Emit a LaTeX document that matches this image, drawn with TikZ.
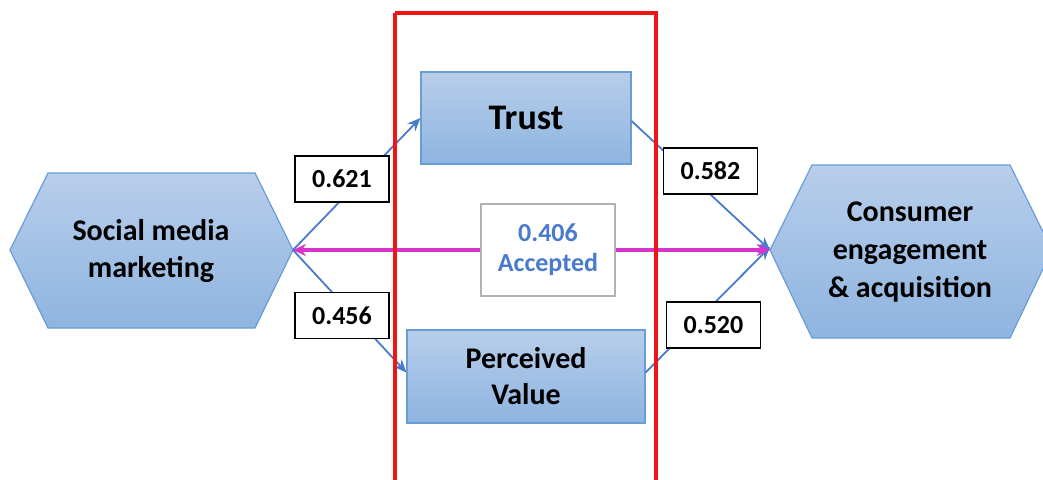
\documentclass[tikz,border=0pt]{standalone}
\usepackage{fontspec}
\setmainfont{Carlito}
\usetikzlibrary{arrows.meta}
\definecolor{boxtop}{RGB}{184,206,234}
\definecolor{boxbot}{RGB}{142,180,224}
\definecolor{boxedge}{RGB}{105,157,214}
\definecolor{linkblue}{RGB}{72,122,205}
\definecolor{accblue}{RGB}{72,122,205}
\definecolor{mag}{RGB}{214,52,204}
\definecolor{frame}{RGB}{240,20,20}
\tikzset{
  concept/.style={draw=boxedge, line width=1.2pt, top color=boxtop, bottom color=boxbot},
  conceptbox/.style={concept, rectangle, minimum width=#1, inner sep=0pt, align=center, font=\bfseries\fontsize{30}{36}\selectfont},
  coef/.style={draw=black, line width=1.3pt, fill=white, minimum width=94pt, minimum height=46pt, font=\bfseries\fontsize{26}{30}\selectfont},
  link/.style={draw=linkblue, line width=1.8pt, -{Stealth[length=13pt,width=11pt]}},
  direct/.style={draw=mag, line width=4pt, {Stealth[length=13pt,width=12pt]}-{Stealth[length=13pt,width=12pt]}},
  hextext/.style={align=center, font=\bfseries\fontsize{30}{37}\selectfont}
}
\begin{document}
\begin{tikzpicture}[x=1pt,y=-1pt]
\useasboundingbox (0,0) rectangle (1043,479);
\clip (0,0) rectangle (1043,479);

% hexagon: Social media marketing
\path[concept] (10,250) -- (48,173) -- (255,173) -- (293,250) -- (255,328) -- (48,328) -- cycle;
\coordinate (smmR) at (293,250);
\node[hextext] (smm) at (151,251) {Social media\\marketing};

% hexagon: Consumer engagement & acquisition
\path[concept] (770,250) -- (812,165) -- (1010,165) -- (1052,250) -- (1010,338) -- (812,338) -- cycle;
\coordinate (ceaL) at (770,250);
\node[hextext, font=\bfseries\fontsize{30}{38}\selectfont] (cea) at (910,252) {Consumer\\engagement\\\& acquisition};

% mediators
\node[conceptbox=210pt, minimum height=92pt, font=\bfseries\fontsize{36}{40}\selectfont] (trust) at (526,118) {Trust};
\node[conceptbox=238pt, minimum height=93pt] (pv) at (526,376.5) {Perceived\\Value};

% paths
\draw[link] (smmR) -- (trust.west);
\draw[link] (smmR) -- ([yshift=4pt]pv.west);
\draw[link] ([yshift=-3pt]trust.east) -- (ceaL);
\draw[link] ([yshift=4pt]pv.east) -- ([yshift=3pt]ceaL);
\draw[direct] (smmR) -- (ceaL);

% mediator frame
\draw[frame, line width=3.5pt] (395,13) -- (656,13) -- (656,490) (395,13) -- (395,490);

% direct effect
\node[draw=black!30, line width=1.3pt, fill=white, minimum width=134pt, minimum height=92pt, align=center,
      text=accblue, font=\bfseries\fontsize{26}{30}\selectfont] (direct) at (548,250) {0.406\\Accepted};

% coefficients
\node[coef] (c1) at (342,179) {0.621};
\node[coef] (c2) at (342,315.5) {0.456};
\node[coef] (c3) at (710.5,171) {0.582};
\node[coef] (c4) at (713.5,325) {0.520};
\end{tikzpicture}
\end{document}
